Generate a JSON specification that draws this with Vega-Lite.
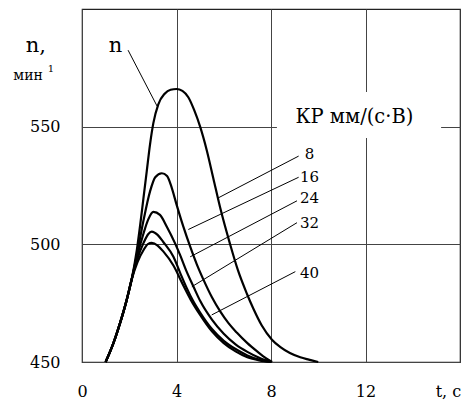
{
  "$schema": "https://vega.github.io/schema/vega-lite/v6.json",
  "width": 378,
  "height": 353,
  "autosize": "none",
  "padding": {"left": 82, "top": 9, "right": 5, "bottom": 38},
  "background": "white",
  "config": {
    "view": {"stroke": "#222", "strokeWidth": 1.2},
    "font": "DejaVu Serif",
    "text": {"font": "DejaVu Serif"},
    "axis": {"labelFont": "DejaVu Serif"}
  },
  "datasets": {
    "curves": [
      {"kp": "8", "t": 1.0, "n": 450}, {"kp": "8", "t": 1.33, "n": 458}, {"kp": "8", "t": 1.61, "n": 466.5}, {"kp": "8", "t": 1.89, "n": 476.3}, {"kp": "8", "t": 2.1, "n": 485}, {"kp": "8", "t": 2.32, "n": 497.5}, {"kp": "8", "t": 2.46, "n": 508}, {"kp": "8", "t": 2.6, "n": 519.5}, {"kp": "8", "t": 2.74, "n": 531}, {"kp": "8", "t": 2.88, "n": 542.5}, {"kp": "8", "t": 3.02, "n": 551.5}, {"kp": "8", "t": 3.23, "n": 559.5}, {"kp": "8", "t": 3.5, "n": 564}, {"kp": "8", "t": 3.75, "n": 565.7}, {"kp": "8", "t": 4.0, "n": 566}, {"kp": "8", "t": 4.25, "n": 565.2}, {"kp": "8", "t": 4.5, "n": 562.5}, {"kp": "8", "t": 4.75, "n": 557}, {"kp": "8", "t": 5.0, "n": 550}, {"kp": "8", "t": 5.28, "n": 540}, {"kp": "8", "t": 5.56, "n": 528}, {"kp": "8", "t": 5.85, "n": 515.5}, {"kp": "8", "t": 6.27, "n": 500}, {"kp": "8", "t": 6.6, "n": 489}, {"kp": "8", "t": 6.98, "n": 479}, {"kp": "8", "t": 7.26, "n": 472.5}, {"kp": "8", "t": 7.61, "n": 465.5}, {"kp": "8", "t": 8.04, "n": 459.5}, {"kp": "8", "t": 8.4, "n": 456.3}, {"kp": "8", "t": 8.8, "n": 453.8}, {"kp": "8", "t": 9.24, "n": 452}, {"kp": "8", "t": 9.6, "n": 451}, {"kp": "8", "t": 10.0, "n": 450},

      {"kp": "16", "t": 1.0, "n": 450}, {"kp": "16", "t": 1.33, "n": 458}, {"kp": "16", "t": 1.61, "n": 466.5}, {"kp": "16", "t": 1.89, "n": 476.3}, {"kp": "16", "t": 2.1, "n": 485}, {"kp": "16", "t": 2.35, "n": 497}, {"kp": "16", "t": 2.6, "n": 510}, {"kp": "16", "t": 2.88, "n": 522.5}, {"kp": "16", "t": 3.1, "n": 528.5}, {"kp": "16", "t": 3.38, "n": 530.2}, {"kp": "16", "t": 3.6, "n": 529}, {"kp": "16", "t": 3.8, "n": 524}, {"kp": "16", "t": 4.0, "n": 517}, {"kp": "16", "t": 4.29, "n": 507.5}, {"kp": "16", "t": 4.58, "n": 499}, {"kp": "16", "t": 4.86, "n": 491.5}, {"kp": "16", "t": 5.14, "n": 485}, {"kp": "16", "t": 5.5, "n": 477.5}, {"kp": "16", "t": 5.85, "n": 471.5}, {"kp": "16", "t": 6.2, "n": 466.5}, {"kp": "16", "t": 6.55, "n": 462.5}, {"kp": "16", "t": 7.0, "n": 458}, {"kp": "16", "t": 7.4, "n": 454.6}, {"kp": "16", "t": 7.8, "n": 451.5}, {"kp": "16", "t": 8.05, "n": 450},

      {"kp": "24", "t": 1.0, "n": 450}, {"kp": "24", "t": 1.33, "n": 458}, {"kp": "24", "t": 1.61, "n": 466.5}, {"kp": "24", "t": 1.89, "n": 476.3}, {"kp": "24", "t": 2.1, "n": 485}, {"kp": "24", "t": 2.35, "n": 495.5}, {"kp": "24", "t": 2.6, "n": 504.5}, {"kp": "24", "t": 2.8, "n": 510.5}, {"kp": "24", "t": 3.02, "n": 513.8}, {"kp": "24", "t": 3.3, "n": 512.5}, {"kp": "24", "t": 3.59, "n": 507.5}, {"kp": "24", "t": 3.94, "n": 500.4}, {"kp": "24", "t": 4.15, "n": 495.5}, {"kp": "24", "t": 4.43, "n": 488.4}, {"kp": "24", "t": 4.72, "n": 482}, {"kp": "24", "t": 5.0, "n": 476}, {"kp": "24", "t": 5.5, "n": 468}, {"kp": "24", "t": 6.0, "n": 462}, {"kp": "24", "t": 6.5, "n": 457.5}, {"kp": "24", "t": 7.0, "n": 454.3}, {"kp": "24", "t": 7.5, "n": 451.8}, {"kp": "24", "t": 8.0, "n": 450},

      {"kp": "32", "t": 1.0, "n": 450}, {"kp": "32", "t": 1.33, "n": 458}, {"kp": "32", "t": 1.61, "n": 466.5}, {"kp": "32", "t": 1.89, "n": 476.3}, {"kp": "32", "t": 2.1, "n": 485}, {"kp": "32", "t": 2.35, "n": 494}, {"kp": "32", "t": 2.6, "n": 500.5}, {"kp": "32", "t": 2.8, "n": 504.3}, {"kp": "32", "t": 2.95, "n": 505.4}, {"kp": "32", "t": 3.2, "n": 504}, {"kp": "32", "t": 3.44, "n": 501}, {"kp": "32", "t": 3.87, "n": 494.7}, {"kp": "32", "t": 4.15, "n": 488}, {"kp": "32", "t": 4.43, "n": 481.5}, {"kp": "32", "t": 4.7, "n": 476}, {"kp": "32", "t": 5.0, "n": 471}, {"kp": "32", "t": 5.5, "n": 464}, {"kp": "32", "t": 6.0, "n": 459}, {"kp": "32", "t": 6.5, "n": 455.5}, {"kp": "32", "t": 7.0, "n": 452.8}, {"kp": "32", "t": 7.5, "n": 451}, {"kp": "32", "t": 8.0, "n": 450},

      {"kp": "40", "t": 1.0, "n": 450}, {"kp": "40", "t": 1.33, "n": 458}, {"kp": "40", "t": 1.61, "n": 466.5}, {"kp": "40", "t": 1.89, "n": 476.3}, {"kp": "40", "t": 2.1, "n": 485}, {"kp": "40", "t": 2.35, "n": 492.5}, {"kp": "40", "t": 2.6, "n": 497.5}, {"kp": "40", "t": 2.8, "n": 500.2}, {"kp": "40", "t": 2.95, "n": 500.6}, {"kp": "40", "t": 3.2, "n": 499.5}, {"kp": "40", "t": 3.44, "n": 497}, {"kp": "40", "t": 3.87, "n": 491}, {"kp": "40", "t": 4.29, "n": 482.5}, {"kp": "40", "t": 4.6, "n": 476.5}, {"kp": "40", "t": 5.0, "n": 470}, {"kp": "40", "t": 5.5, "n": 463}, {"kp": "40", "t": 6.0, "n": 458}, {"kp": "40", "t": 6.5, "n": 454.5}, {"kp": "40", "t": 7.0, "n": 452}, {"kp": "40", "t": 7.5, "n": 450.7}, {"kp": "40", "t": 8.0, "n": 450}
    ],
    "pointers": [
      {"id": "n", "t": 1.95, "n": 582.5}, {"id": "n", "t": 3.18, "n": 558.7},
      {"id": "8", "t": 9.17, "n": 537.5}, {"id": "8", "t": 5.76, "n": 519.7},
      {"id": "16", "t": 9.17, "n": 528.5}, {"id": "16", "t": 4.5, "n": 506.3},
      {"id": "24", "t": 9.1, "n": 518.5}, {"id": "24", "t": 4.58, "n": 494.7},
      {"id": "32", "t": 9.1, "n": 509.2}, {"id": "32", "t": 4.65, "n": 482},
      {"id": "40", "t": 9.03, "n": 488.4}, {"id": "40", "t": 5.49, "n": 470}
    ],
    "kplabels": [
      {"label": "8", "t": 9.63, "n": 538.4},
      {"label": "16", "t": 9.63, "n": 528.7},
      {"label": "24", "t": 9.63, "n": 519.5},
      {"label": "32", "t": 9.63, "n": 509.2},
      {"label": "40", "t": 9.63, "n": 487.9}
    ],
    "box": [{"t1": 8.25, "t2": 15.2, "n1": 545.2, "n2": 564.7}]
  },
  "layer": [
    {
      "data": {"name": "curves"},
      "mark": {"type": "line", "color": "black", "strokeWidth": 2.2, "interpolate": "monotone"},
      "encoding": {
        "x": {"field": "t", "type": "quantitative",
          "scale": {"domain": [0, 16], "nice": false, "zero": false},
          "axis": {"values": [0, 4, 8, 12], "grid": true, "gridColor": "#444", "gridWidth": 1, "ticks": false, "domain": false,
            "labelFontSize": 16, "labelColor": "black", "labelPadding": 21, "title": null, "labelFlush": false}},
        "y": {"field": "n", "type": "quantitative",
          "scale": {"domain": [450, 600], "nice": false, "zero": false},
          "axis": {"values": [450, 500, 550], "grid": true, "gridColor": "#444", "gridWidth": 1, "ticks": false, "domain": false,
            "labelFontSize": 16, "labelColor": "black", "labelPadding": 22, "title": null, "labelFlush": false}},
        "detail": {"field": "kp"}
      }
    },
    {
      "data": {"name": "pointers"},
      "mark": {"type": "line", "color": "black", "strokeWidth": 1},
      "encoding": {
        "x": {"field": "t", "type": "quantitative"},
        "y": {"field": "n", "type": "quantitative"},
        "detail": {"field": "id"}
      }
    },
    {
      "data": {"name": "box"},
      "mark": {"type": "rect", "fill": "white"},
      "encoding": {
        "x": {"field": "t1", "type": "quantitative"},
        "x2": {"field": "t2"},
        "y": {"field": "n1", "type": "quantitative"},
        "y2": {"field": "n2"}
      }
    },
    {
      "data": {"values": [{"label": "КР мм/(с·В)", "t": 11.53, "n": 554.2}]},
      "mark": {"type": "text", "fontSize": 19.5, "color": "black", "align": "center", "baseline": "middle"},
      "encoding": {
        "x": {"field": "t", "type": "quantitative"},
        "y": {"field": "n", "type": "quantitative"},
        "text": {"field": "label"}
      }
    },
    {
      "data": {"name": "kplabels"},
      "mark": {"type": "text", "fontSize": 15, "color": "black", "align": "center", "baseline": "middle"},
      "encoding": {
        "x": {"field": "t", "type": "quantitative"},
        "y": {"field": "n", "type": "quantitative"},
        "text": {"field": "label"}
      }
    },
    {
      "data": {"values": [
        {"label": "n", "t": 1.42, "n": 581.8, "size": 21},
        {"label": "n,", "t": -1.95, "n": 581.7, "size": 21},
        {"label": "t, c", "t": 15.51, "n": 435.1, "size": 16}
      ]},
      "mark": {"type": "text", "color": "black", "align": "center", "baseline": "alphabetic"},
      "encoding": {
        "x": {"field": "t", "type": "quantitative"},
        "y": {"field": "n", "type": "quantitative"},
        "text": {"field": "label"},
        "size": {"field": "size", "type": "quantitative", "scale": null, "legend": null}
      }
    },
    {
      "data": {"values": [
        {"label": "мин", "t": -2.28, "n": 571.5, "size": 14},
        {"label": "1", "t": -1.31, "n": 574.5, "size": 10}
      ]},
      "mark": {"type": "text", "color": "black", "align": "center", "baseline": "middle"},
      "encoding": {
        "x": {"field": "t", "type": "quantitative"},
        "y": {"field": "n", "type": "quantitative"},
        "text": {"field": "label"},
        "size": {"field": "size", "type": "quantitative", "scale": null, "legend": null}
      }
    }
  ]
}
